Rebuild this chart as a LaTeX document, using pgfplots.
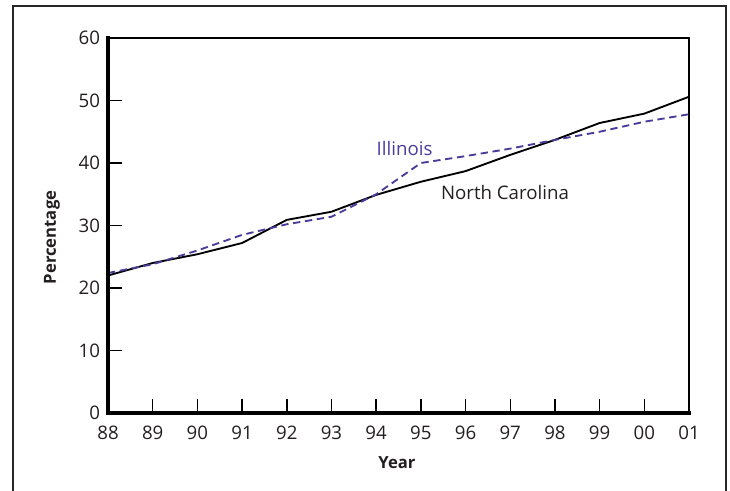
\documentclass[border=0pt]{standalone}
\usepackage{fontspec}
\setmainfont{Open Sans}
\usepackage{pgfplots}
\pgfplotsset{compat=1.18}
\definecolor{ilcol}{RGB}{75,60,155}
\definecolor{txt}{RGB}{35,31,32}

\begin{document}
\begin{tikzpicture}
\useasboundingbox (0pt,0pt) rectangle (547.5pt,367.5pt);
% outer frame, bottom edge is cut off
\draw[line width=0.8pt,black!85] (9.75pt,-2pt) -- (9.75pt,363pt) -- (544.5pt,363pt) -- (544.5pt,-2pt);
\begin{axis}[
    name=ax,
    at={(81pt,57.75pt)}, anchor=south west,
    scale only axis,
    width=435.75pt, height=281.25pt,
    xmin=0, xmax=13, ymin=0, ymax=60,
    xtick={0,...,13},
    xticklabels={88,89,90,91,92,93,94,95,96,97,98,99,00,01},
    ytick={0,10,...,60},
    tick pos=left,
    tick align=inside,
    major tick length=10.5pt,
    tick style={line width=1.1pt,black},
    axis line style={line width=1pt},
    /pgf/number format/assume math mode=true,
    ticklabel style={font=\fontsize{14}{16}\selectfont, text=txt},
    xticklabel style={yshift=-6pt},
    yticklabel style={xshift=-2.5pt},
    clip=false,
]
% North Carolina
\addplot[black, line width=1.4pt] coordinates {
(0,22.0) (1,24.0) (2,25.4) (3,27.2) (4,30.9) (5,32.2) (6,34.9)
(7,37.0) (8,38.7) (9,41.3) (10,43.7) (11,46.4) (12,47.9) (13,50.6)};
% Illinois
\addplot[ilcol, line width=1.4pt, dash pattern=on 5.5pt off 3.5pt] coordinates {
(0,22.4) (1,23.8) (2,26.0) (3,28.5) (4,30.2) (5,31.4) (6,35.0)
(7,40.0) (8,41.1) (9,42.3) (10,43.7) (11,45.0) (12,46.6) (13,47.8)};
\end{axis}
% heavier left and bottom axis lines
\draw[line width=2.6pt, line cap=rect] (ax.north west) -- (ax.south west) -- (ax.south east);
\node[anchor=base, text=ilcol, font=\fontsize{14}{16}\selectfont] at (303.4pt,251.25pt) {Illinois};
\node[anchor=base, text=txt, font=\fontsize{14}{16}\selectfont] at (378.75pt,218pt) {North Carolina};
\node[rotate=90, text=txt, font=\bfseries\fontsize{12.5}{15}\selectfont] at (39pt,189.4pt) {Percentage};
\node[text=txt, font=\bfseries\fontsize{12.5}{15}\selectfont] at (297.75pt,20.25pt) {Year};
\end{tikzpicture}
\end{document}
